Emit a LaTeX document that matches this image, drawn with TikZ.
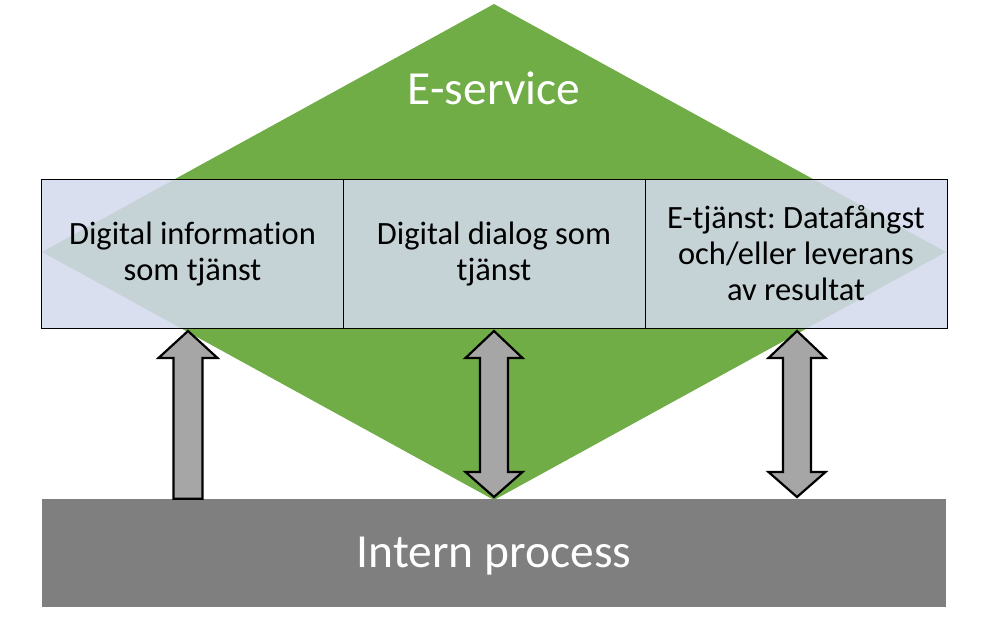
\documentclass[tikz,border=0pt]{standalone}
\usepackage{fontspec}
\setmainfont{Carlito}[Ligatures=NoCommon]
\frenchspacing
\usetikzlibrary{calc}
\definecolor{dgreen}{RGB}{112,173,71}
\definecolor{boxfill}{RGB}{212,218,238}
\definecolor{procgray}{RGB}{127,127,127}
\definecolor{arrowgray}{RGB}{166,166,166}
\tikzset{
  boxnode/.style={draw=black, line width=0.9pt, fill=boxfill, fill opacity=0.86, text opacity=1,
    minimum width=302pt, minimum height=149pt, inner sep=0pt, align=center,
    font=\fontsize{32.5}{36}\selectfont\frenchspacing, text=black},
  bigtext/.style={text=white, font=\fontsize{47.5}{56}\selectfont, anchor=base, inner sep=0pt},
  uparrow/.style={draw=black, line width=2.2pt, fill=arrowgray, line join=miter,
    to path={let \p1=(\tikztostart), \p2=(\tikztotarget) in
      (\x1-14.5pt,\y1) -- (\x1-14.5pt,\y2-27pt) -- (\x1-29.5pt,\y2-27pt) -- (\x1,\y2)
      -- (\x1+29.5pt,\y2-27pt) -- (\x1+14.5pt,\y2-27pt) -- (\x1+14.5pt,\y1) -- cycle}},
  dblarrow/.style={draw=black, line width=2.2pt, fill=arrowgray, line join=miter,
    to path={let \p1=(\tikztostart), \p2=(\tikztotarget) in
      (\x1,\y1) -- (\x1-28.5pt,\y1+25pt) -- (\x1-14pt,\y1+25pt) -- (\x1-14pt,\y2-27pt)
      -- (\x1-28.5pt,\y2-27pt) -- (\x1,\y2) -- (\x1+28.5pt,\y2-27pt) -- (\x1+14pt,\y2-27pt)
      -- (\x1+14pt,\y1+25pt) -- (\x1+28.5pt,\y1+25pt) -- cycle}}
}
\begin{document}
\begin{tikzpicture}[x=1pt,y=-1pt]
\useasboundingbox (0,0) rectangle (990,616);
% diamond
\fill[dgreen] (494,4) coordinate (dtop) -- (946,252) -- (494,500) coordinate (dbot) -- (42,252) -- cycle;
% process bar
\node[fill=procgray, minimum width=904pt, minimum height=108pt, inner sep=0pt] (proc) at (494,553) {};
\node[bigtext] (proctext) at (494,567) {Intern process};
\node[bigtext] (eserv) at (494,104) {E-service};
% boxes
\node[boxnode] (box1) at (192.5,253.5) {Digital information\\som tjänst};
\node[boxnode] (box2) at (494,253.5) {Digital dialog som\\tjänst};
\node[boxnode] (box3) at (796,253.5) {E-tjänst: Datafångst\\och/eller leverans\\av resultat};
% arrow anchors
\coordinate (t1) at (188,331);
\coordinate (t2) at (494,331);
\coordinate (t3) at (797,331);
\coordinate (b1) at (t1 |- proc.north);
\coordinate (b2) at (494,497);
\coordinate (b3) at (797,497);
\draw[uparrow] (b1) to (t1);
\draw[dblarrow] (b2) to (t2);
\draw[dblarrow] (b3) to (t3);
\end{tikzpicture}
\end{document}
